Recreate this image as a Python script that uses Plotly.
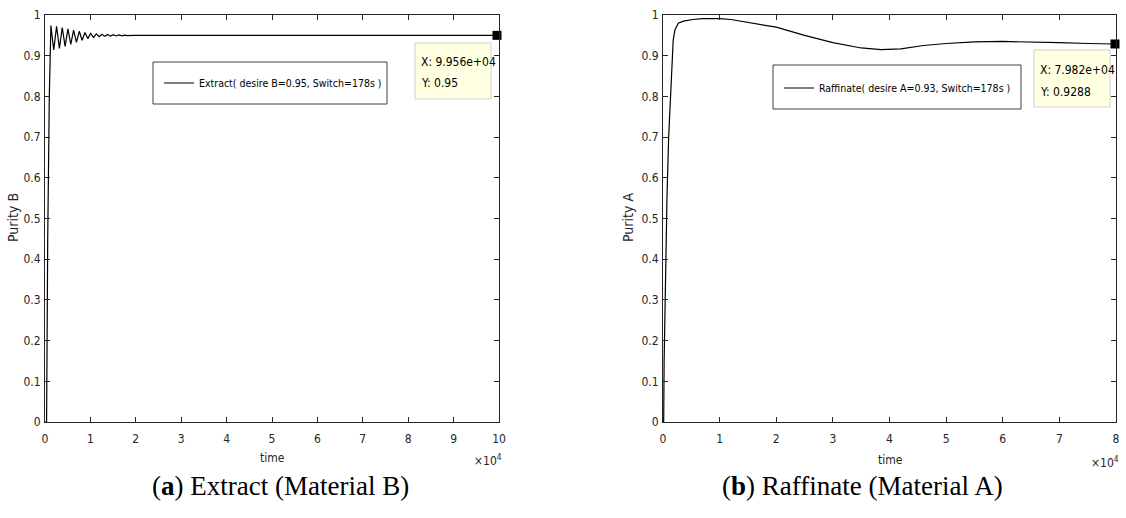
import plotly.graph_objects as go

W, H = 1126, 518

# ---------------- data ----------------
ext_time = [0, 350, 600, 800, 950, 1150, 1300, 1925, 2550, 3175, 3800, 4425, 5050, 5675,
            6300, 6925, 7550, 8175, 8800, 9425, 10050, 10675, 11300, 11925, 12550, 13175,
            13800, 14425, 15050, 15675, 16300, 16925, 17550, 18175, 18800, 19425, 21000, 99560]
ext_purity = [0, 0.0, 0.45, 0.70, 0.80, 0.90, 0.974, 0.914, 0.972, 0.918, 0.969, 0.923, 0.966,
              0.928, 0.963, 0.933, 0.960, 0.938, 0.957, 0.942, 0.955, 0.945, 0.9535, 0.9465,
              0.9525, 0.9475, 0.952, 0.948, 0.9515, 0.9485, 0.951, 0.949, 0.9505, 0.9495,
              0.9503, 0.9497, 0.95, 0.95]

raf_time = [0, 120, 200, 400, 700, 1000, 1400, 1600, 1800, 2100, 2700, 3600, 5300, 7000,
            10000, 12000, 15000, 20000, 25000, 30000, 35000, 38500, 42000, 46000, 50000,
            55000, 60000, 65000, 70000, 75000, 79820]
raf_purity = [0, 0.0, 0.15, 0.35, 0.55, 0.70, 0.816, 0.90, 0.938, 0.963, 0.980, 0.985, 0.989,
              0.991, 0.991, 0.989, 0.982, 0.970, 0.950, 0.932, 0.919, 0.915, 0.917, 0.925,
              0.930, 0.934, 0.935, 0.934, 0.932, 0.930, 0.9288]

tip_ext = {"x": [99560], "y": [0.95]}
tip_raf = {"x": [79820], "y": [0.9288]}

ext_name = "Extract( desire B=0.95, Switch=178s )"
raf_name = "Raffinate( desire A=0.93, Switch=178s )"

x1_ticks = [i * 10000 for i in range(11)]
x1_labels = [str(i) for i in range(11)]
x2_ticks = [i * 10000 for i in range(9)]
x2_labels = [str(i) for i in range(9)]
y_ticks = [i / 10 for i in range(11)]
y_labels = ["0"] + ["0.%d" % i for i in range(1, 10)] + ["1"]

# ---------------- helpers ----------------
def px(x):
    return x / W


def py(y):
    return 1 - y / H


AX = "#262626"
FONT = "DejaVu Sans Condensed, Liberation Sans Narrow, Liberation Sans, Arial"

fig = go.Figure()
fig.add_trace(go.Scatter(x=ext_time, y=ext_purity, mode="lines", name=ext_name,
                         line=dict(color="black", width=1.2), xaxis="x", yaxis="y",
                         legend="legend"))
fig.add_trace(go.Scatter(x=raf_time, y=raf_purity, mode="lines", name=raf_name,
                         line=dict(color="black", width=1.2), xaxis="x2", yaxis="y2",
                         legend="legend2"))
fig.add_trace(go.Scatter(x=tip_ext["x"], y=tip_ext["y"], mode="markers", showlegend=False,
                         marker=dict(symbol="square", size=9, color="black"),
                         xaxis="x", yaxis="y", cliponaxis=False))
fig.add_trace(go.Scatter(x=tip_raf["x"], y=tip_raf["y"], mode="markers", showlegend=False,
                         marker=dict(symbol="square", size=9, color="black"),
                         xaxis="x2", yaxis="y2", cliponaxis=False))

axis_common = dict(showline=True, linecolor=AX, linewidth=1, mirror="ticks",
                   ticks="inside", ticklen=5, tickcolor=AX, tickwidth=1,
                   showgrid=False, zeroline=False, automargin=False,
                   tickfont=dict(family=FONT, size=12, color=AX))

ydom = [py(422), py(15)]
fig.update_layout(
    width=W, height=H, margin=dict(l=0, r=0, t=0, b=0, autoexpand=False),
    paper_bgcolor="white", plot_bgcolor="white",
    xaxis=dict(domain=[px(45), px(499)], range=[0, 100000], tickvals=x1_ticks,
               ticktext=x1_labels, anchor="y", ticklabelstandoff=6, **axis_common),
    yaxis=dict(domain=ydom, range=[0, 1], tickvals=y_ticks, ticktext=y_labels,
               anchor="x", ticklabelstandoff=1, **axis_common),
    xaxis2=dict(domain=[px(663), px(1116)], range=[0, 80000], tickvals=x2_ticks,
                ticktext=x2_labels, anchor="y2", ticklabelstandoff=6, **axis_common),
    yaxis2=dict(domain=ydom, range=[0, 1], tickvals=y_ticks, ticktext=y_labels,
                anchor="x2", ticklabelstandoff=1, **axis_common),
    legend=dict(x=px(159), y=py(83), xanchor="left", yanchor="middle",
                bgcolor="rgba(0,0,0,0)", borderwidth=0,
                font=dict(family=FONT, size=10.5, color="black")),
    legend2=dict(x=px(779), y=py(88), xanchor="left", yanchor="middle",
                 bgcolor="rgba(0,0,0,0)", borderwidth=0,
                 font=dict(family=FONT, size=10.5, color="black")),
)

shapes = [
    dict(type="rect", xref="paper", yref="paper", x0=px(153), x1=px(387), y0=py(104), y1=py(62),
         line=dict(color="#404040", width=1), fillcolor="rgba(255,255,255,0)", layer="above"),
    dict(type="rect", xref="paper", yref="paper", x0=px(773), x1=px(1021), y0=py(109), y1=py(65),
         line=dict(color="#404040", width=1), fillcolor="rgba(255,255,255,0)", layer="above"),
    dict(type="rect", xref="paper", yref="paper", x0=px(415), x1=px(491), y0=py(99), y1=py(43),
         line=dict(color="#cfcfcf", width=1), fillcolor="#ffffe1", layer="above"),
    dict(type="rect", xref="paper", yref="paper", x0=px(1034), x1=px(1110), y0=py(107), y1=py(50),
         line=dict(color="#cfcfcf", width=1), fillcolor="#ffffe1", layer="above"),
]
fig.update_layout(shapes=shapes)

ann = []
def text(x, y, s, size=13, family=FONT, xanchor="center", yanchor="middle", angle=0, color=AX):
    ann.append(dict(xref="paper", yref="paper", x=px(x), y=py(y), text=s, showarrow=False,
                    xanchor=xanchor, yanchor=yanchor, textangle=angle,
                    font=dict(family=family, size=size, color=color)))

# axis titles
text(272, 458, "time", size=12)
text(890, 460, "time", size=12)
text(13, 218, "Purity B", size=14, angle=-90)
text(628, 218, "Purity A", size=14, angle=-90)
# exponent labels
text(504, 460, "×10<sup>4</sup>", size=12, xanchor="right")
text(1121, 462, "×10<sup>4</sup>", size=12, xanchor="right")
# data tips
text(419, 62, "X: 9.956e+04", size=12, xanchor="left", color="black")
text(419, 83, "Y: 0.95", size=12, xanchor="left", color="black")
text(1038, 70, "X: 7.982e+04", size=12, xanchor="left", color="black")
text(1038, 92, "Y: 0.9288", size=12, xanchor="left", color="black")
# captions
text(280, 486, "(<b>a</b>) Extract (Material B)", size=27, family="Liberation Serif, serif",
     color="black")
text(862, 486, "(<b>b</b>) Raffinate (Material A)", size=27, family="Liberation Serif, serif",
     color="black")
fig.update_layout(annotations=ann)

fig.write_html("out.html",
               config={"displayModeBar": False},
               post_script="document.body.style.margin='0px';"
                           "document.body.style.overflow='hidden';")
